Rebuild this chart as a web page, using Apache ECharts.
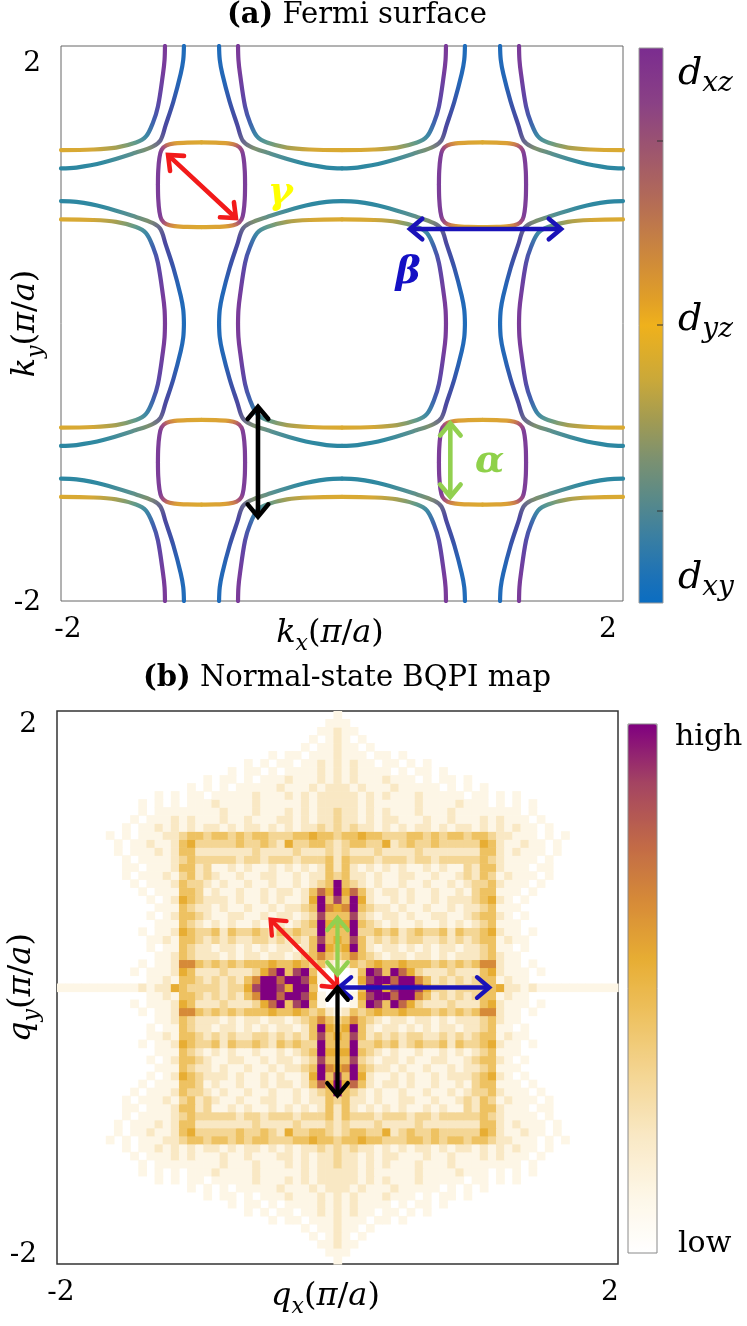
<!DOCTYPE html>
<html><head><meta charset="utf-8">
<script src="https://cdn.jsdelivr.net/npm/echarts@6/dist/echarts.min.js"></script>
<style>html,body{margin:0;padding:0;background:#fff}#c{width:747px;height:1326px}</style>
</head><body><div id="c"></div>
<script>
// ================= DATA =================
// Axis ticks (both panels, units of pi/a)
const axisTicks = [-2, 2];

// Panel (a): Fermi-surface pieces read in local coordinates (u,v) measured from a
// zone-corner point (+-1,+-1) towards the neighbouring big-pocket centre.
const cornerPoints = [[-1, 1], [1, 1], [-1, -1], [1, -1]];
const quadrantSigns = [[1, 1], [1, -1], [-1, 1], [-1, -1]];
const outerBandUV = [[0.125,1.0],[0.13,0.9],[0.148,0.8],[0.2,0.6],[0.255,0.43],[0.292,0.32],[0.345,0.277],[0.466,0.232],[0.7,0.16],[0.89,0.124],[1.0,0.118]];
const innerBandUV = [[0.26,1.0],[0.263,0.9],[0.274,0.8],[0.31,0.564],[0.345,0.449],[0.395,0.348],[0.466,0.304],[0.608,0.268],[0.772,0.254],[1.0,0.25]];
const pocketUV = [[0.31,0],[0.308,0.1],[0.3,0.19],[0.285,0.25],[0.25,0.283],[0.19,0.298],[0.1,0.304],[0,0.305]];

// Panel (a) scattering-vector arrows [x1, y1, x2, y2] and Greek labels
const arrowsA = [[-1.238,1.214,-0.755,0.760],[0.484,0.681,1.559,0.681],[-0.598,-0.600,-0.598,-1.392],[0.771,-0.719,0.771,-1.249]];
const greekTextA = ['γ', 'β', 'α'];
const greekPosA = [[-0.44,0.94],[0.47,0.36],[1.05,-1.0]];
const orbitalSubs = ['xz', 'yz', 'xy'];

// Panel (b): BQPI intensity levels (0 = low ... 9 = high), quadrant qx>=0, qy>=0.
// Rows from top (qy index 34) down to qy index 0; characters from qx index 0 outward.
const qCells = 69;
const bqpiQuadrantRows = [
"1000",
"1100",
"2110",
"2101",
"2110100000000",
"2111011010000000",
"2121101101010000000",
"2121111010110100000000",
"2121112111010110100000",
"2212111211111010101000",
"2221212111211111011010100",
"2221211111211112111010101",
"3221212111211121111111101",
"32212122111211211121211101",
"323221212122121221212121101",
"3445443334434344344322111010100",
"23443352343343333354211211010",
"23222322223222222244212111010",
"24333233323323333343211110100",
"24212121211212113244211101100",
"34221211221121123243121110100",
"94321211211211212334211101",
"95742122121121121344111010",
"84952112121121222345210100",
"56943221211211212234111",
"44832122121122112344210100",
"55943212112112121234111",
"44933434234334243345211010",
"54842323233223232344121100",
"45942122121212212234110100",
"34643212212212122234211",
"12434544544434343466211010",
"00149849753222322245211101",
"00158997996423232344121100",
"000499589985332333345221211111111111111"
];
const arrowsB = [[-0.477,0.491,0,0],[0,0.094,0,0.503],[0.01,0,1.082,0],[0,0,0,-0.78]];
const colorbarBText = ['high', 'low'];

// ================= STYLE =================
const FONT = "'DejaVu Serif', serif";
const stopsOuter = [[0,'#1f6dbb'],[0.18,'#2466b6'],[0.3,'#3a52a8'],[0.42,'#4d479f'],[0.5,'#6b6d8a'],[0.56,'#7d906e'],[0.66,'#559092'],[0.8,'#3089a0'],[1,'#2b86a2']];
const stopsInner = [[0,'#7b3a98'],[0.14,'#783c9c'],[0.3,'#5e46a6'],[0.42,'#3f5fae'],[0.52,'#3c88a6'],[0.6,'#5f9a8c'],[0.72,'#a8a050'],[0.84,'#d6a836'],[1,'#dbaa30']];
const stopsPocket = [[0,'#7a3c9a'],[0.4,'#7e3f98'],[0.5,'#a5507a'],[0.58,'#c97a4e'],[0.68,'#dba036'],[1,'#dcaa30']];
const orbitalBarStops = [[0,'#7b2c90'],[0.1,'#8a4185'],[0.17,'#9a5272'],[0.27,'#b26a58'],[0.36,'#c98440'],[0.45,'#e09e28'],[0.5,'#efb11c'],[0.6,'#c9a83a'],[0.67,'#a29b52'],[0.74,'#7c9170'],[0.81,'#5a8a88'],[0.88,'#3a7fa2'],[0.95,'#1d72b6'],[1,'#0a6dc2']];
const bqpiColors = ['#ffffff','#fdf6e6','#f9e8c4','#f4d695','#eec262','#e7ad33','#d68a38','#c06848','#a44462','#800080'];
const arrowColorsA = ['#f21a1a','#1a12b8','#000000','#92d050'];
const greekColorsA = ['#ffff00','#1410c4','#8fd14a'];
const arrowColorsB = ['#f21a1a','#92d050','#1a12b8','#000000'];

// ================= BUILD =================
function grad(stops, fV, fH) {
  return {type:'linear', x:fV[0], y:fV[1], x2:fH[0], y2:fH[1], global:false,
    colorStops: stops.map(s => ({offset:s[0], color:s[1]}))};
}
const series = [];
cornerPoints.forEach(([cx, cy]) => {
  quadrantSigns.forEach(([sx, sy]) => {
    const toK = uv => uv.map(([u, v]) => [cx + sx*u, cy + sy*v]);
    const vA = [sx > 0 ? 0 : 1, sy > 0 ? 0 : 1];
    const hA = [1 - vA[0], 1 - vA[1]];
    const vP = [sx > 0 ? 1 : 0, sy > 0 ? 1 : 0];
    const hP = [1 - vP[0], 1 - vP[1]];
    [[outerBandUV, stopsOuter, vA, hA], [innerBandUV, stopsInner, vA, hA], [pocketUV, stopsPocket, vP, hP]]
      .forEach(([uv, st, f1, f2]) => {
        series.push({type:'line', xAxisIndex:0, yAxisIndex:0, data: toK(uv), smooth:0.35,
          symbol:'none', silent:true, animation:false, z:2,
          lineStyle:{width:4.2, cap:'round', join:'round', color: grad(st, f1, f2)}});
      });
  });
});

function arrowRender(colors, lw, head) {
  return function (params, api) {
    const p1 = api.coord([api.value(0), api.value(1)]);
    const p2 = api.coord([api.value(2), api.value(3)]);
    const col = colors[params.dataIndex];
    const dx = p2[0]-p1[0], dy = p2[1]-p1[1];
    const L = Math.hypot(dx, dy) || 1;
    const ux = dx/L, uy = dy/L;
    const ang = 40*Math.PI/180, c = Math.cos(ang), s = Math.sin(ang);
    function chev(tip, ex, ey) {
      const a1 = [tip[0] + head*(ex*c - ey*s), tip[1] + head*(ex*s + ey*c)];
      const a2 = [tip[0] + head*(ex*c + ey*s), tip[1] + head*(-ex*s + ey*c)];
      return {type:'polyline', shape:{points:[a1, tip, a2]},
        style:{stroke:col, lineWidth:lw, fill:null, lineCap:'round', lineJoin:'miter'}};
    }
    return {type:'group', children:[
      {type:'line', shape:{x1:p1[0]+ux*2, y1:p1[1]+uy*2, x2:p2[0]-ux*2, y2:p2[1]-uy*2},
        style:{stroke:col, lineWidth:lw, lineCap:'round'}},
      chev(p1, ux, uy), chev(p2, -ux, -uy)]};
  };
}
series.push({type:'custom', xAxisIndex:0, yAxisIndex:0, data: arrowsA, z:5, silent:true,
  animation:false, encode:{x:[0,2], y:[1,3]}, renderItem: arrowRender(arrowColorsA, 4.6, 16)});
series.push({type:'custom', xAxisIndex:0, yAxisIndex:0, data: greekPosA, z:6, silent:true,
  animation:false, encode:{x:0, y:1},
  renderItem: function (params, api) {
    const p = api.coord([api.value(0), api.value(1)]);
    return {type:'text', x:p[0], y:p[1], style:{text:greekTextA[params.dataIndex],
      fill:greekColorsA[params.dataIndex], align:'center', verticalAlign:'middle',
      font:"italic bold 38px 'DejaVu Serif', serif", opacity:1}};
  }});

// heatmap cells
const half = (qCells - 1)/2;
const dq = 4/qCells;
const heatData = [];
for (let j = -half; j <= half; j++) {
  const row = bqpiQuadrantRows[half - Math.abs(j)] || '';
  for (let i = -half; i <= half; i++) {
    const lv = +(row[Math.abs(i)] || '0');
    if (lv > 0) heatData.push([i*dq, j*dq, lv]);
  }
}
const heatIndex = series.length;
series.push({type:'custom', xAxisIndex:1, yAxisIndex:1, data: heatData, z:1, silent:true, animation:false,
  encode:{x:0, y:1},
  renderItem: function (params, api) {
    const c = api.coord([api.value(0), api.value(1)]);
    const s = api.size([dq, dq]);
    return {type:'rect', shape:{x:c[0]-s[0]/2, y:c[1]-s[1]/2, width:s[0]+0.6, height:s[1]+0.6},
      style:{fill: api.visual('color')}};
  }});
series.push({type:'custom', xAxisIndex:1, yAxisIndex:1, data: arrowsB, z:5, silent:true,
  animation:false, encode:{x:[0,2], y:[1,3]}, renderItem: arrowRender(arrowColorsB, 4.3, 16)});

// axes
function tickFmt(v) {
  if (v === axisTicks[1]) return '{t|' + v + '}';
  if (v === axisTicks[0]) return '{b|' + v + '}';
  return '';
}
function tickRich(tPad, bPad) {
  const base = {fontFamily:FONT, fontSize:28, color:'#000'};
  return {t:Object.assign({padding:tPad}, base), b:Object.assign({padding:bPad}, base)};
}
const nameRich = {
  i:{fontFamily:FONT, fontStyle:'italic', fontSize:32, color:'#000'},
  s:{fontFamily:FONT, fontStyle:'italic', fontSize:22, color:'#000', padding:[20,0,0,0]},
  r:{fontFamily:FONT, fontSize:32, color:'#000'}
};
function mathName(base, sub) { return '{i|' + base + '}{s|' + sub + '}{r|(}{i|π}{r|/}{i|a}{r|)}'; }
function xAx(gi, name, lpadL, lpadR, pad) {
  return {gridIndex:gi, type:'value', min:axisTicks[0], max:axisTicks[1], interval:2,
    axisLine:{show:false}, axisTick:{show:false}, splitLine:{show:false},
    axisLabel:{margin:15, formatter:tickFmt, rich:tickRich([0,lpadR,0,0],[0,0,0,lpadL])},
    name:name, nameLocation:'middle', nameGap:12, nameMoveOverlap:false,
    nameTextStyle:{fontFamily:FONT, fontSize:32, color:'#000', rich:nameRich, padding:pad}};
}
function yAx(gi, name, tpad, bpad) {
  return {gridIndex:gi, type:'value', min:axisTicks[0], max:axisTicks[1], interval:2,
    axisLine:{show:false}, axisTick:{show:false}, splitLine:{show:false},
    axisLabel:{margin:20, formatter:tickFmt, rich:tickRich(tpad, bpad)},
    name:name, nameLocation:'middle', nameGap:14, nameMoveOverlap:false,
    nameTextStyle:{fontFamily:FONT, fontSize:32, color:'#000', rich:nameRich}};
}

const option = {
  backgroundColor:'#fff',
  animation:false,
  title:[
    {text:'{b|(a)} Fermi surface', left:357, top:1, textAlign:'center', padding:0,
      textStyle:{fontFamily:FONT, fontSize:29, fontWeight:'normal', color:'#000',
        rich:{b:{fontFamily:FONT, fontSize:29, fontWeight:'bold', color:'#000'}}}},
    {text:'{b|(b)} Normal-state BQPI map', left:347, top:664, textAlign:'center', padding:0,
      textStyle:{fontFamily:FONT, fontSize:29, fontWeight:'normal', color:'#000',
        rich:{b:{fontFamily:FONT, fontSize:29, fontWeight:'bold', color:'#000'}}}}
  ],
  grid:[
    {left:61, top:46, width:562, height:555, show:true, borderColor:'#666', borderWidth:1,
      backgroundColor:'transparent', containLabel:false, outerBoundsMode:'none'},
    {left:57, top:711, width:561, height:553, show:true, borderColor:'#333', borderWidth:1.5,
      backgroundColor:'transparent', containLabel:false, outerBoundsMode:'none'}
  ],
  xAxis:[xAx(0, mathName('k','x'), 14, 30, [0,24,0,0]), xAx(1, mathName('q','x'), 8, 16, [0,24,0,0])],
  yAxis:[yAx(0, mathName('k','y'), [36,0,0,0], [4,0,0,0]), yAx(1, mathName('q','y'), [28,0,0,0], [0,0,18,0])],
  visualMap:[{type:'continuous', seriesIndex:heatIndex, dimension:2, min:0, max:9,
    inRange:{color:bqpiColors}, left:628, top:724, itemWidth:29, itemHeight:529,
    calculable:false, padding:0, orient:'vertical', show:true, hoverLink:false}],
  graphic:[
    {type:'rect', shape:{x:639, y:48, width:24, height:555}, z:10,
      style:{fill:{type:'linear', x:0, y:0, x2:0, y2:1, colorStops: orbitalBarStops.map(s => ({offset:s[0], color:s[1]}))},
        stroke:'#9a9a9a', lineWidth:1}},
    {type:'line', shape:{x1:657, y1:141, x2:663, y2:141}, style:{stroke:'#333', lineWidth:1}, z:11},
    {type:'line', shape:{x1:657, y1:325, x2:663, y2:325}, style:{stroke:'#333', lineWidth:1}, z:11},
    {type:'line', shape:{x1:657, y1:511, x2:663, y2:511}, style:{stroke:'#333', lineWidth:1}, z:11},
    ...orbitalSubs.map((sub, i) => ({type:'text', x:678, y:[74, 320, 578][i], z:11,
      style:{text:'{d|d}{s|' + sub + '}', align:'left', verticalAlign:'middle',
        rich:{d:{fontFamily:FONT, fontStyle:'italic', fontSize:38, color:'#000'},
              s:{fontFamily:FONT, fontStyle:'italic', fontSize:28, color:'#000', padding:[20,0,0,0]}}}})),
    {type:'rect', shape:{x:628, y:724, width:29, height:529}, z:10,
      style:{fill:null, stroke:'#8a8a8a', lineWidth:1}},
    {type:'text', x:675, y:737, z:11, style:{text:colorbarBText[0], align:'left', verticalAlign:'middle',
      fontFamily:FONT, fontSize:30, fill:'#000'}},
    {type:'text', x:678, y:1244, z:11, style:{text:colorbarBText[1], align:'left', verticalAlign:'middle',
      fontFamily:FONT, fontSize:30, fill:'#000'}}
  ],
  series: series
};
const chart = echarts.init(document.getElementById('c'), null, {renderer:'canvas'});
chart.setOption(option);
</script>
</body></html>
